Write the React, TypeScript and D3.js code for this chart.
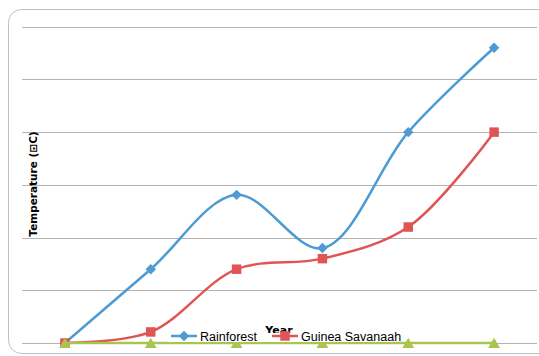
import { useEffect, useRef } from 'react';
import * as d3 from 'd3';

const categories = ['1', '2', '3', '4', '5', '6'];
const rainforest = [0, 1.4, 2.81, 1.8, 4.0, 5.6];
const guineaSavanaah = [0, 0.21, 1.4, 1.6, 2.2, 4.0];
const thirdZone = [0, 0, 0, 0, 0, 0];
const gridTicks = [0, 1, 2, 3, 4, 5, 6];

const W = 539;
const H = 356;

export default function App() {
  const ref = useRef<SVGSVGElement>(null);

  useEffect(() => {
    const svg = d3.select(ref.current);
    svg.selectAll('*').remove();

    const x = d3.scalePoint<string>().domain(categories).range([22, 537]).padding(0.5);
    const y = d3.scaleLinear().domain([0, 6]).range([343, 26.7]);

    // chart frame
    svg
      .append('rect')
      .attr('x', 8.5)
      .attr('y', 9.5)
      .attr('width', 620)
      .attr('height', 344)
      .attr('rx', 13)
      .attr('fill', '#fff')
      .attr('stroke', '#BFBFBF');

    // gridlines
    svg
      .append('g')
      .selectAll('line')
      .data(gridTicks)
      .enter()
      .append('line')
      .attr('x1', 22)
      .attr('x2', 537)
      .attr('y1', (d) => Math.round(y(d)) + 0.5)
      .attr('y2', (d) => Math.round(y(d)) + 0.5)
      .attr('stroke', '#B3B3B3')
      .attr('stroke-width', 1);

    // y title
    svg
      .append('text')
      .attr('transform', `translate(37,184) rotate(-90)`)
      .attr('text-anchor', 'middle')
      .attr('font-family', 'DejaVu Sans, sans-serif')
      .attr('font-weight', 'bold')
      .attr('font-size', 10.5)
      .attr('fill', '#000')
      .text('Temperature (⊡C)');

    const series = [
      { name: 'Rainforest', values: rainforest, color: '#4E9AD2', symbol: d3.symbolDiamond2, size: 70 },
      { name: 'Guinea Savanaah', values: guineaSavanaah, color: '#E05454', symbol: d3.symbolSquare, size: 90 },
      { name: 'Other', values: thirdZone, color: '#A9C44F', symbol: d3.symbolTriangle, size: 60 },
    ];

    const line = d3
      .line<number>()
      .x((_d, i) => x(categories[i]) ?? 0)
      .y((d) => y(d))
      .curve(d3.curveCatmullRom.alpha(0.5));

    series.forEach((s) => {
      const g = svg.append('g');
      g.append('path')
        .attr('d', line(s.values) ?? '')
        .attr('fill', 'none')
        .attr('stroke', s.color)
        .attr('stroke-width', 2.5);
      g.selectAll('path.m')
        .data(s.values)
        .enter()
        .append('path')
        .attr('class', 'm')
        .attr('d', d3.symbol().type(s.symbol).size(s.size)())
        .attr('transform', (d, i) => `translate(${x(categories[i])},${y(d) + (s.symbol === d3.symbolTriangle ? 1.5 : 0)})`)
        .attr('fill', s.color);
    });

    // x title
    svg
      .append('text')
      .attr('x', 279)
      .attr('y', 334)
      .attr('text-anchor', 'middle')
      .attr('font-family', 'DejaVu Sans, sans-serif')
      .attr('font-weight', 'bold')
      .attr('font-size', 11)
      .text('Year');

    // legend
    const leg = svg.append('g');
    leg.append('rect').attr('x', 168).attr('y', 333).attr('width', 228).attr('height', 9).attr('fill', '#fff');
    const items = [
      { s: series[0], x0: 171, tx: 200 },
      { s: series[1], x0: 272, tx: 301 },
    ];
    items.forEach(({ s, x0, tx }) => {
      leg.append('line')
        .attr('x1', x0)
        .attr('x2', x0 + 26)
        .attr('y1', 336)
        .attr('y2', 336)
        .attr('stroke', s.color)
        .attr('stroke-width', 2.5);
      leg.append('path')
        .attr('d', d3.symbol().type(s.symbol).size(s.size)())
        .attr('transform', `translate(${x0 + 13},336)`)
        .attr('fill', s.color);
      leg.append('text')
        .attr('x', tx)
        .attr('y', 341)
        .attr('font-family', 'Liberation Sans Narrow, Arial Narrow, sans-serif')
        .attr('font-size', 12.5)
        .attr('fill', '#000')
        .text(s.name);
    });
  }, []);

  return (
    <svg
      ref={ref}
      width={W}
      height={H}
      viewBox={`0 0 ${W} ${H}`}
      style={{ position: 'absolute', left: 0, top: 0, background: '#fff' }}
    />
  );
}
